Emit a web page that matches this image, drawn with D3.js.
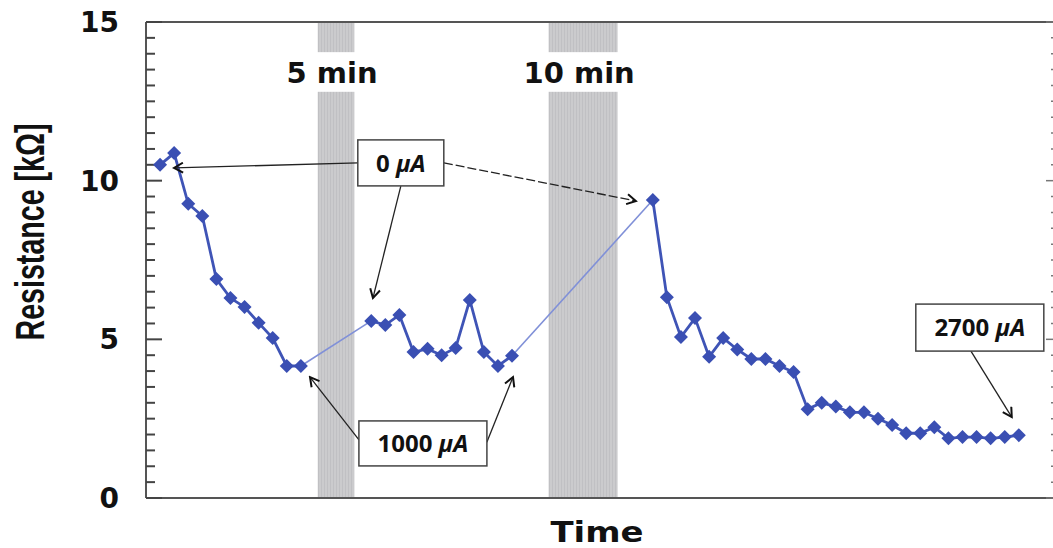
<!DOCTYPE html>
<html>
<head>
<meta charset="utf-8">
<script src="https://cdn.jsdelivr.net/npm/d3@7"></script>
<style>
  body { margin: 0; background: #fff; }
  svg { display: block; }
</style>
</head>
<body>
<script>
let w = 1053;
let h = 548;

// time in minutes (one reading per minute), resistance in kOhm
let times1 = [0, 1, 2, 3, 4, 5, 6, 7, 8, 9, 10];
let values1 = [10.5, 10.87, 9.27, 8.89, 6.9, 6.3, 6.02, 5.52, 5.04, 4.16, 4.16];

let times2 = [15, 16, 17, 18, 19, 20, 21, 22, 23, 24, 25];
let values2 = [5.58, 5.45, 5.77, 4.6, 4.7, 4.5, 4.73, 6.24, 4.6, 4.16, 4.48];

let times3 = [35, 36, 37, 38, 39, 40, 41, 42, 43, 44, 45, 46, 47, 48,
              49, 50, 51, 52, 53, 54, 55, 56, 57, 58, 59, 60, 61];
let values3 = [9.39, 6.33, 5.07, 5.67, 4.45, 5.04, 4.68, 4.38, 4.38, 4.16, 3.97, 2.8, 3.0, 2.88,
               2.7, 2.7, 2.5, 2.3, 2.04, 2.04, 2.23, 1.88, 1.92, 1.92, 1.88, 1.92, 1.98];

// shaded pauses (start, end in minutes) and their labels
let pauseStart = [11.2, 27.6];
let pauseEnd = [13.8, 32.5];
let pauseLabels = ["5 min", "10 min"];

let yTicks = [0, 5, 10, 15];

let series = [times1, times2, times3].map(function(ts, k) {
    let vs = [values1, values2, values3][k];
    return ts.map(function(t, i) { return {t: t, v: vs[i]}; });
});

// annotation boxes: label, centre (t, v), size in px
let notes = [
    {label: "0 ", t: 17.1, v: 10.56, bw: 86, bh: 46},
    {label: "1000 ", t: 18.67, v: 1.72, bw: 128, bh: 45},
    {label: "2700 ", t: 58.23, v: 5.37, bw: 128, bh: 47}
];

// arrows: from (t0, v0) to (t1, v1)
let arrows = [
    {t0: 14.06, v0: 10.56, t1: 0.99, v1: 10.4, dash: null},
    {t0: 17.1, v0: 9.83, t1: 15.12, v1: 6.3, dash: null},
    {t0: 20.16, v0: 10.56, t1: 33.8, v1: 9.36, dash: "9,3"},
    {t0: 14.13, v0: 1.83, t1: 10.65, v1: 3.81, dash: null},
    {t0: 23.21, v0: 1.76, t1: 25.07, v1: 3.81, dash: null},
    {t0: 57.6, v0: 4.63, t1: 60.5, v1: 2.55, dash: null}
];

let padLeft = 146, padRight = 1054, padTop = 22, padBottom = 498;

let xScale = d3.scaleLinear().domain([-1, 63.5]).range([padLeft, padRight]);
let yScale = d3.scaleLinear().domain([0, 15]).range([padBottom, padTop]);

let svg = d3.select("body").append("svg")
    .attr("width", w)
    .attr("height", h);

let defs = svg.append("defs");
defs.append("marker")
    .attr("id", "head")
    .attr("viewBox", "-10 -6 12 12")
    .attr("refX", 0).attr("refY", 0)
    .attr("markerWidth", 12).attr("markerHeight", 12)
    .attr("markerUnits", "userSpaceOnUse")
    .attr("orient", "auto")
    .append("path")
    .attr("d", "M-9,-5 L0,0 L-9,5")
    .attr("fill", "none")
    .attr("stroke", "#111")
    .attr("stroke-width", 2);

// hatch for the gray bands
let pat = defs.append("pattern")
    .attr("id", "hatch")
    .attr("width", 3).attr("height", 3)
    .attr("patternUnits", "userSpaceOnUse");
pat.append("rect").attr("width", 3).attr("height", 3).attr("fill", "#cbcbcd");
pat.append("rect").attr("width", 1).attr("height", 3).attr("fill", "#c0c0c3");

// pause bands, broken where the label sits
let gapTop = 14.05, gapBottom = 12.8;
pauseStart.forEach(function(s, i) {
    [[15, gapTop], [gapBottom, 0]].forEach(function(seg) {
        svg.append("rect")
            .attr("x", xScale(s))
            .attr("y", yScale(seg[0]))
            .attr("width", xScale(pauseEnd[i]) - xScale(s))
            .attr("height", yScale(seg[1]) - yScale(seg[0]))
            .attr("fill", "url(#hatch)");
    });
    svg.append("text")
        .attr("x", xScale((s + pauseEnd[i]) / 2) - 4)
        .attr("y", yScale(13.42))
        .attr("dy", "0.36em")
        .attr("text-anchor", "middle")
        .style("font-family", "DejaVu Sans")
        .style("font-weight", "bold")
        .style("font-size", "29px")
        .attr("fill", "#111")
        .text(pauseLabels[i]);
});

// frame
let frame = svg.append("g").attr("stroke", "#555").attr("stroke-width", 2);
frame.append("line").attr("x1", padLeft).attr("x2", padRight).attr("y1", padTop).attr("y2", padTop);
frame.append("line").attr("x1", padLeft).attr("x2", padRight).attr("y1", padBottom).attr("y2", padBottom);
frame.append("line").attr("x1", padLeft).attr("x2", padLeft).attr("y1", padTop).attr("y2", padBottom);

// left axis ticks (inward)
let minor = d3.range(0, 15.01, 0.5);
svg.append("g").selectAll("line")
    .data(minor)
    .enter().append("line")
    .attr("x1", padLeft)
    .attr("x2", function(d) { return d % 5 === 0 ? padLeft + 16 : padLeft + 9; })
    .attr("y1", function(d) { return yScale(d); })
    .attr("y2", function(d) { return yScale(d); })
    .attr("stroke", "#444")
    .attr("stroke-width", 2);

// right axis ticks (inward)
svg.append("g").selectAll("line")
    .data(minor)
    .enter().append("line")
    .attr("x1", padRight)
    .attr("x2", function(d) { return d % 5 === 0 ? padRight - 8 : padRight - 3; })
    .attr("y1", function(d) { return yScale(d); })
    .attr("y2", function(d) { return yScale(d); })
    .attr("stroke", "#777")
    .attr("stroke-width", 1.5);

svg.append("g").selectAll("text")
    .data(yTicks)
    .enter().append("text")
    .attr("x", 119)
    .attr("y", function(d) { return yScale(d); })
    .attr("dy", "0.36em")
    .attr("text-anchor", "end")
    .style("font-family", "DejaVu Sans")
    .style("font-weight", "bold")
    .style("font-size", "28px")
    .attr("fill", "#111")
    .text(function(d) { return d; });

// axis titles
svg.append("text")
    .attr("transform", "translate(44,232) rotate(-90)")
    .attr("text-anchor", "middle")
    .attr("textLength", 217)
    .attr("lengthAdjust", "spacingAndGlyphs")
    .style("font-family", "Liberation Sans")
    .style("font-weight", "bold")
    .style("font-size", "41px")
    .attr("fill", "#111")
    .text("Resistance [k\u03A9]");

svg.append("text")
    .attr("x", 597)
    .attr("y", 542)
    .attr("text-anchor", "middle")
    .attr("textLength", 93)
    .attr("lengthAdjust", "spacingAndGlyphs")
    .style("font-family", "DejaVu Sans")
    .style("font-weight", "bold")
    .style("font-size", "28px")
    .attr("fill", "#111")
    .text("Time");

// data lines
let line = d3.line()
    .x(function(d) { return xScale(d.t); })
    .y(function(d) { return yScale(d.v); });

// thin connectors across the pauses
for (let k = 0; k < series.length - 1; k++) {
    let a = series[k][series[k].length - 1];
    let b = series[k + 1][0];
    svg.append("path")
        .attr("d", line([a, b]))
        .attr("fill", "none")
        .attr("stroke", "#8090d8")
        .attr("stroke-width", 1.6);
}

series.forEach(function(s) {
    svg.append("path")
        .attr("d", line(s))
        .attr("fill", "none")
        .attr("stroke", "#3f54b6")
        .attr("stroke-width", 2.8);
});

let diamond = d3.symbol().type(d3.symbolSquare).size(98);
series.forEach(function(s) {
    svg.append("g").selectAll("path")
        .data(s)
        .enter().append("path")
        .attr("d", diamond)
        .attr("transform", function(d) {
            return "translate(" + xScale(d.t) + "," + yScale(d.v) + ") rotate(45)";
        })
        .attr("fill", "#3a4fb3");
});

// arrows
svg.append("g").selectAll("line")
    .data(arrows)
    .enter().append("line")
    .attr("x1", function(d) { return xScale(d.t0); })
    .attr("y1", function(d) { return yScale(d.v0); })
    .attr("x2", function(d) { return xScale(d.t1); })
    .attr("y2", function(d) { return yScale(d.v1); })
    .attr("stroke", "#222")
    .attr("stroke-width", 1.3)
    .attr("stroke-dasharray", function(d) { return d.dash; })
    .attr("marker-end", "url(#head)");

// annotation boxes
let boxes = svg.append("g").selectAll("g")
    .data(notes)
    .enter().append("g")
    .attr("transform", function(d) {
        return "translate(" + xScale(d.t) + "," + yScale(d.v) + ")";
    });

boxes.append("rect")
    .attr("x", function(d) { return -d.bw / 2; })
    .attr("y", function(d) { return -d.bh / 2; })
    .attr("width", function(d) { return d.bw; })
    .attr("height", function(d) { return d.bh; })
    .attr("fill", "#fff")
    .attr("stroke", "#444")
    .attr("stroke-width", 1.5);

let txt = boxes.append("text")
    .attr("text-anchor", "middle")
    .attr("dy", "0.36em")
    .style("font-family", "Open Sans")
    .style("font-weight", "bold")
    .style("font-size", "24px")
    .attr("fill", "#111");
txt.append("tspan").text(function(d) { return d.label; });
txt.append("tspan").style("font-style", "italic").text("\u03BCA");
</script>
</body>
</html>
